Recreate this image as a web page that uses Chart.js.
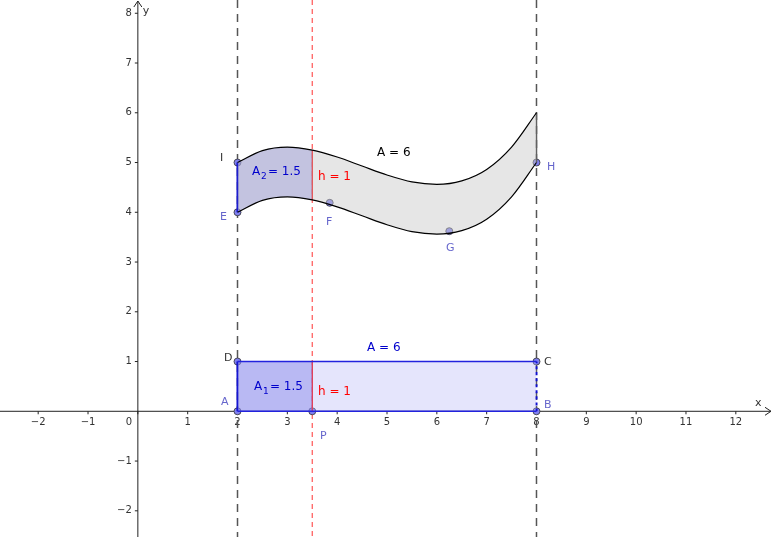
<!DOCTYPE html>
<html>
<head>
<meta charset="utf-8">
<script src="https://cdn.jsdelivr.net/npm/chart.js@4"></script>
<style>
  html, body { margin: 0; padding: 0; background: #fff; }
  #wrap { width: 774px; height: 537px; }
</style>
</head>
<body>
<div id="wrap"><canvas id="c"></canvas></div>
<script>
/* ===== curve band + rectangle, same area ===== */

const curveX     = [2, 2.5, 3, 3.5, 4, 4.5, 5, 5.5, 6, 6.5, 7, 7.5, 8];
const lowerY     = [4.00, 4.24, 4.31, 4.25, 4.11, 3.93, 3.75, 3.61, 3.56, 3.63, 3.86, 4.31, 5.00];
const upperY     = [5.00, 5.24, 5.31, 5.25, 5.11, 4.93, 4.75, 4.61, 4.56, 4.63, 4.86, 5.31, 6.00];
const sliceEnd   = 3.5;
const rectX      = [2, 8];
const rectY      = [0, 1];
const xTicks     = [-2, -1, 0, 1, 2, 3, 4, 5, 6, 7, 8, 9, 10, 11, 12];
const yTicks     = [-2, -1, 1, 2, 3, 4, 5, 6, 7, 8];
const pointNames = ['A', 'B', 'C', 'D', 'P', 'E', 'F', 'G', 'H', 'I'];
const pointXs    = [2, 8, 8, 2, 3.5, 2, 3.85, 6.25, 8, 2];
const pointYs    = [0, 0, 1, 1, 0, 4, 4.19, 3.62, 5, 5];

const pts = (xs, ys) => xs.map((x, i) => ({ x, y: ys[i] }));
const nSlice = curveX.indexOf(sliceEnd) + 1;

const line = (data, extra) => Object.assign({
  type: 'line', data, borderColor: '#000', borderWidth: 1.2,
  pointRadius: 0, cubicInterpolationMode: 'monotone', fill: false,
}, extra);

const datasets = [
  // band
  line(pts(curveX, lowerY), {}),
  line(pts(curveX, upperY), { fill: '-1', backgroundColor: 'rgba(200,200,200,0.45)' }),
  // blue slice of band
  line(pts(curveX.slice(0, nSlice), lowerY.slice(0, nSlice)), { borderWidth: 0 }),
  line(pts(curveX.slice(0, nSlice), upperY.slice(0, nSlice)), { borderWidth: 0, fill: '-1', backgroundColor: 'rgba(90,90,225,0.38)' }),
  // rectangle
  line(pts(rectX, [rectY[0], rectY[0]]), { borderColor: '#2222dd', borderWidth: 1.5 }),
  line(pts(rectX, [rectY[1], rectY[1]]), { borderColor: '#2222dd', borderWidth: 1.5, fill: '-1', backgroundColor: 'rgba(180,180,245,0.35)' }),
  line(pts([rectX[0], sliceEnd], [rectY[0], rectY[0]]), { borderWidth: 0 }),
  line(pts([rectX[0], sliceEnd], [rectY[1], rectY[1]]), { borderWidth: 0, fill: '-1', backgroundColor: 'rgba(80,80,220,0.38)' }),
  // side edges
  line(pts([2, 2], [0, 1]), { borderColor: '#0000cc', borderWidth: 2 }),
  line(pts([2, 2], [4, 5]), { borderColor: '#0000cc', borderWidth: 2 }),
  line(pts([8, 8], [0, 1]), { borderColor: '#0000cc', borderWidth: 2, borderDash: [3, 3] }),
  line(pts([8, 8], [5, 6]), { borderColor: '#555', borderWidth: 1.5 }),
  // h = 1 segments
  line(pts([sliceEnd, sliceEnd], [0, 1]), { borderColor: '#ff0000', borderWidth: 1.5 }),
  line(pts([sliceEnd, sliceEnd], [4.25, 5.25]), { borderColor: '#ff0000', borderWidth: 1.5 }),
  // points
  {
    type: 'scatter', data: pts(pointXs, pointYs),
    pointRadius: 3.5, pointBackgroundColor: '#8080ee', pointBorderColor: '#333', pointBorderWidth: 0.8,
  },
];

const labels = [
  { t: 'A', x: 225, y: 402, c: '#6666cc' }, { t: 'B', x: 548, y: 405, c: '#6666cc' },
  { t: 'C', x: 548, y: 362, c: '#333' },    { t: 'D', x: 228, y: 358, c: '#333' },
  { t: 'P', x: 324, y: 436, c: '#6666cc' }, { t: 'E', x: 224, y: 217, c: '#6666cc' },
  { t: 'F', x: 330, y: 222, c: '#6666cc' }, { t: 'G', x: 450, y: 248, c: '#6666cc' },
  { t: 'H', x: 551, y: 167, c: '#6666cc' }, { t: 'I', x: 224, y: 158, c: '#333' },
];

const overlay = {
  id: 'overlay',
  beforeDatasetsDraw(chart) {
    const { ctx, scales: { x, y }, width, height } = chart;
    ctx.save();
    const ox = x.getPixelForValue(0), oy = y.getPixelForValue(0);
    ctx.strokeStyle = '#222'; ctx.lineWidth = 1; ctx.fillStyle = '#333';
    ctx.beginPath(); ctx.moveTo(0, oy); ctx.lineTo(width - 3, oy);
    ctx.moveTo(ox, height); ctx.lineTo(ox, 1); ctx.stroke();
    ctx.beginPath();
    ctx.moveTo(width - 9, oy - 4); ctx.lineTo(width - 3, oy); ctx.lineTo(width - 9, oy + 4);
    ctx.moveTo(ox - 4, 7); ctx.lineTo(ox, 1); ctx.lineTo(ox + 4, 7);
    ctx.stroke();
    ctx.font = '10px "DejaVu Sans"';
    ctx.textAlign = 'center'; ctx.textBaseline = 'top';
    xTicks.forEach(v => {
      const px = x.getPixelForValue(v);
      ctx.beginPath(); ctx.moveTo(px, oy); ctx.lineTo(px, oy + 3); ctx.stroke();
      ctx.fillText(v < 0 ? '\u2212' + (-v) : String(v), v === 0 ? px - 9 : px, oy + 6);
    });
    ctx.textAlign = 'right'; ctx.textBaseline = 'middle';
    yTicks.forEach(v => {
      const py = y.getPixelForValue(v);
      ctx.beginPath(); ctx.moveTo(ox - 3, py); ctx.lineTo(ox, py); ctx.stroke();
      ctx.fillText(v < 0 ? '\u2212' + (-v) : String(v), ox - 6, py);
    });
    ctx.font = '11px "DejaVu Sans"'; ctx.textAlign = 'left';
    ctx.fillText('x', 755, oy - 8); ctx.fillText('y', ox + 5, 11);
    // dashed verticals
    [[2, '#555', [8, 6], 1.5], [8, '#555', [8, 6], 1.5], [sliceEnd, '#ff5555', [5, 4], 1.2]].forEach(([v, c, d, w]) => {
      const px = x.getPixelForValue(v);
      ctx.strokeStyle = c; ctx.lineWidth = w; ctx.setLineDash(d);
      ctx.beginPath(); ctx.moveTo(px, 0); ctx.lineTo(px, height); ctx.stroke();
    });
    ctx.restore();
  },
  afterDatasetsDraw(chart) {
    const { ctx } = chart;
    ctx.save();
    ctx.textBaseline = 'middle'; ctx.textAlign = 'left';
    ctx.font = '11px "DejaVu Sans"';
    labels.forEach(l => { ctx.fillStyle = l.c; ctx.fillText(l.t, l.x - 4, l.y); });
    ctx.font = '12px "DejaVu Sans"';
    ctx.fillStyle = '#0000cc'; ctx.fillText('A = 6', 367, 348);
    ctx.fillStyle = '#000';    ctx.fillText('A = 6', 377, 153);
    ctx.fillStyle = '#ff0000'; ctx.fillText('h = 1', 318, 392); ctx.fillText('h = 1', 318, 177);
    ctx.fillStyle = '#0000cc';
    ctx.font = '12px "DejaVu Sans"'; ctx.fillText('A', 254, 387); ctx.fillText('A', 252, 172);
    ctx.font = '9px "DejaVu Sans"';  ctx.fillText('1', 263, 392); ctx.fillText('2', 261, 177);
    ctx.font = '12px "DejaVu Sans"'; ctx.fillText('= 1.5', 270, 387); ctx.fillText('= 1.5', 268, 172);
    ctx.restore();
  },
};

new Chart(document.getElementById('c'), {
  data: { datasets },
  plugins: [overlay],
  options: {
    responsive: true, maintainAspectRatio: false, animation: false,
    layout: { padding: 0 },
    plugins: { legend: { display: false }, tooltip: { enabled: false } },
    scales: {
      x: { type: 'linear', min: -2.67, max: 12.67, display: false },
      y: { type: 'linear', min: -2.43, max: 8.17, display: false },
    },
  },
});
</script>
</body>
</html>
